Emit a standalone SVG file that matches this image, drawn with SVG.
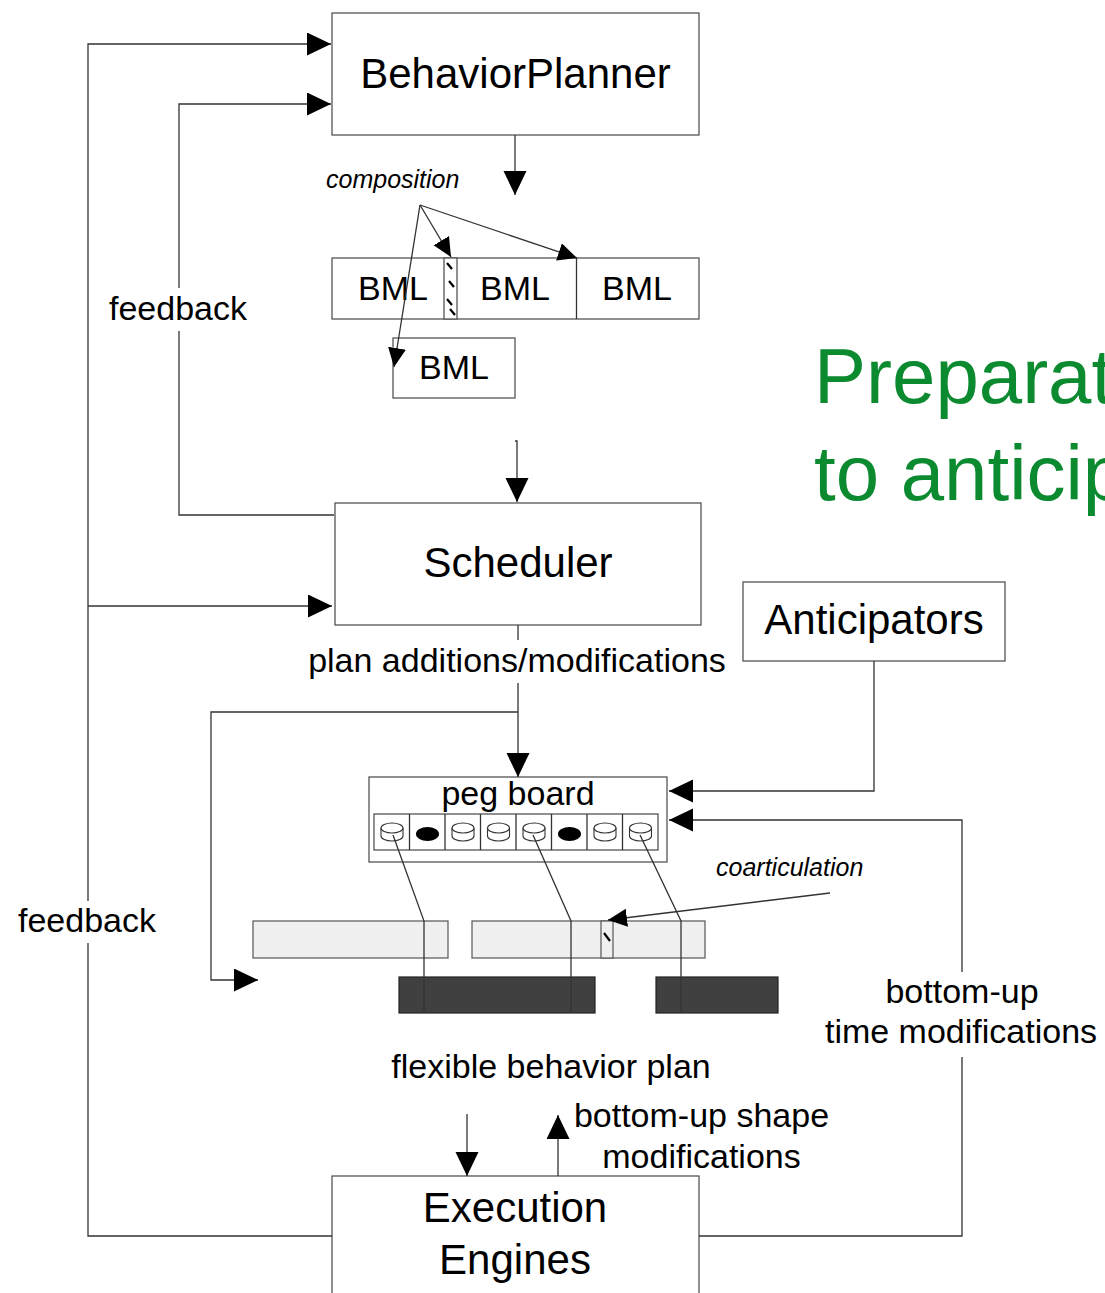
<svg xmlns="http://www.w3.org/2000/svg" width="1105" height="1293" viewBox="0 0 1105 1293">
  <style>
    .box { fill: #ffffff; stroke: #555555; stroke-width: 1.3; }
    .ln { fill: none; stroke: #333333; stroke-width: 1.3; }
    .lbl { font-family: "Liberation Sans", Arial, sans-serif; fill: #000000; }
    .big { font-size: 42px; }
    .mid { font-size: 34px; }
    .it { font-size: 25px; font-style: italic; }
    .light { fill: #f0f0f0; stroke: #555555; stroke-width: 1.2; }
    .dark { fill: #404040; stroke: #222222; stroke-width: 1.2; }
    .hatch { stroke: #000000; stroke-width: 2.2; stroke-linecap: butt; }
    .peg { fill: #ffffff; stroke: #333333; stroke-width: 1.1; }
  </style>
  <defs>
    <marker id="arr" markerUnits="userSpaceOnUse" markerWidth="24" markerHeight="24" refX="24" refY="11.5" orient="auto">
      <path d="M0,0 L24,11.5 L0,23 Z" fill="#000000"/>
    </marker>
    <marker id="arr-s" markerUnits="userSpaceOnUse" markerWidth="20" markerHeight="20" refX="19" refY="9" orient="auto">
      <path d="M0,0 L19,9 L0,18 Z" fill="#000000"/>
    </marker>
    <g id="cyl">
      <path class="peg" d="M-11,-4 L-11,4 A11,5 0 0 0 11,4 L11,-4"/>
      <ellipse class="peg" cx="0" cy="-4" rx="11" ry="5"/>
    </g>
    <ellipse id="solid" cx="0" cy="2" rx="11.5" ry="7" fill="#000000"/>
  </defs>

  <rect width="1105" height="1293" fill="#ffffff"/>

  <g id="behavior-planner">
    <rect class="box" x="332" y="13" width="367" height="122"/>
    <text class="lbl big" x="515.5" y="88" text-anchor="middle">BehaviorPlanner</text>
  </g>

  <g id="composition-label">
    <text class="lbl it" x="326" y="188">composition</text>
  </g>

  <g id="bml-row">
    <rect class="box" x="332" y="258" width="367" height="61"/>
    <rect class="box" x="444" y="258" width="13" height="61"/>
    <!-- overlap strip hatching -->
    <line class="hatch" x1="447" y1="263" x2="452" y2="269"/>
    <line class="hatch" x1="449" y1="281" x2="454" y2="287"/>
    <line class="hatch" x1="447" y1="299" x2="452" y2="305"/>
    <line class="hatch" x1="450" y1="309" x2="455" y2="315"/>
    <line class="ln" x1="576.5" y1="258" x2="576.5" y2="319"/>
    <text class="lbl mid" x="393" y="300" text-anchor="middle">BML</text>
    <text class="lbl mid" x="515" y="300" text-anchor="middle">BML</text>
    <text class="lbl mid" x="637" y="300" text-anchor="middle">BML</text>
  </g>

  <g id="bml-extra">
    <rect class="box" x="393" y="338" width="122" height="60"/>
    <text class="lbl mid" x="454" y="379" text-anchor="middle">BML</text>
  </g>

  <g id="feedback-labels">
    <text class="lbl mid" x="178" y="320" text-anchor="middle">feedback</text>
    <text class="lbl mid" x="87" y="932" text-anchor="middle">feedback</text>
  </g>

  <g id="heading">
    <text x="814" y="403" font-family="Liberation Sans, Arial, sans-serif" font-size="78" fill="#0b8a30">Preparat</text>
    <text x="814" y="500" font-family="Liberation Sans, Arial, sans-serif" font-size="78" fill="#0b8a30">to anticip</text>
  </g>

  <g id="scheduler">
    <rect class="box" x="335" y="503" width="366" height="122"/>
    <text class="lbl big" x="518" y="577" text-anchor="middle">Scheduler</text>
  </g>

  <g id="plan-label">
    <text class="lbl mid" x="517" y="672" text-anchor="middle">plan additions/modifications</text>
  </g>

  <g id="anticipators">
    <rect class="box" x="743" y="582" width="262" height="79"/>
    <text class="lbl big" x="874" y="634" text-anchor="middle">Anticipators</text>
  </g>

  <g id="peg-board">
    <rect class="box" x="369" y="777" width="298" height="85"/>
    <text class="lbl mid" x="518" y="805" text-anchor="middle">peg board</text>
    <rect class="box" x="374" y="814" width="284" height="36"/>
    <path class="ln" d="M409.5,814 V850 M445,814 V850 M480.5,814 V850 M516,814 V850 M551.5,814 V850 M587,814 V850 M622.5,814 V850"/>
    <use href="#cyl" x="392" y="832"/>
    <use href="#solid" x="427.5" y="832"/>
    <use href="#cyl" x="463" y="832"/>
    <use href="#cyl" x="498.5" y="832"/>
    <use href="#cyl" x="534" y="832"/>
    <use href="#solid" x="569.5" y="832"/>
    <use href="#cyl" x="605" y="832"/>
    <use href="#cyl" x="640.5" y="832"/>
  </g>

  <g id="coarticulation-label">
    <text class="lbl it" x="716" y="876">coarticulation</text>
  </g>

  <g id="behavior-plan">
    <rect class="light" x="253" y="921" width="195" height="37"/>
    <rect class="light" x="472" y="921" width="233" height="37"/>
    <rect class="light" x="601" y="921" width="12" height="37"/>
    <line class="hatch" x1="604" y1="933" x2="610" y2="941"/>
    <rect class="dark" x="399" y="977" width="196" height="36"/>
    <rect class="dark" x="656" y="977" width="122" height="36"/>
    <path class="ln" d="M393,835 L424,921 L424,1013"/>
    <path class="ln" d="M533,835 L571,921 L571,1013"/>
    <path class="ln" d="M640,835 L681,921 L681,1013"/>
    <text class="lbl mid" x="551" y="1078" text-anchor="middle">flexible behavior plan</text>
  </g>

  <g id="time-mod-label">
    <text class="lbl mid" x="962" y="1003" text-anchor="middle">bottom-up</text>
    <text class="lbl mid" x="961" y="1043" text-anchor="middle">time modifications</text>
  </g>

  <g id="shape-mod-label">
    <text class="lbl mid" x="701.5" y="1127" text-anchor="middle">bottom-up shape</text>
    <text class="lbl mid" x="701.5" y="1168" text-anchor="middle">modifications</text>
  </g>

  <g id="execution-engines">
    <rect class="box" x="332" y="1176" width="367" height="140"/>
    <text class="lbl big" x="515" y="1222" text-anchor="middle">Execution</text>
    <text class="lbl big" x="515" y="1274" text-anchor="middle">Engines</text>
  </g>

  <!-- connectors, drawn last so they pass over the boxes they cross -->
  <g id="connectors">
    <!-- outer feedback loop: Execution Engines -> Behavior Planner / Scheduler -->
    <path class="ln" d="M332,1236 L88,1236 L88,943"/>
    <path class="ln" d="M88,901 L88,44 L331,44" marker-end="url(#arr)"/>
    <path class="ln" d="M88,606 L332,606" marker-end="url(#arr)"/>
    <!-- inner feedback loop: Scheduler -> Behavior Planner -->
    <path class="ln" d="M334,515 L179,515 L179,331"/>
    <path class="ln" d="M179,288 L179,104 L331,104" marker-end="url(#arr)"/>
    <!-- planner output -->
    <path class="ln" d="M515,135 L515,195" marker-end="url(#arr)"/>
    <!-- composition -->
    <path class="ln" d="M420,205 L451,257" marker-end="url(#arr-s)"/>
    <path class="ln" d="M420,205 L577,258" marker-end="url(#arr-s)"/>
    <path class="ln" d="M420,205 L394,367" marker-end="url(#arr-s)"/>
    <!-- BML to scheduler -->
    <path class="ln" d="M515,441 L517,441 L517,502" marker-end="url(#arr)"/>
    <!-- scheduler to peg board -->
    <path class="ln" d="M518,625 L518,640"/>
    <path class="ln" d="M518,683 L518,777" marker-end="url(#arr)"/>
    <path class="ln" d="M518,712 L211,712 L211,980 L258,980" marker-end="url(#arr)"/>
    <!-- anticipators to peg board -->
    <path class="ln" d="M874,661 L874,791 L669,791" marker-end="url(#arr)"/>
    <!-- bottom-up time modifications -->
    <path class="ln" d="M699,1236 L962,1236 L962,1057"/>
    <path class="ln" d="M962,972 L962,820 L669,820" marker-end="url(#arr)"/>
    <!-- plan to execution and back -->
    <path class="ln" d="M467,1114 L467,1176" marker-end="url(#arr)"/>
    <path class="ln" d="M558,1176 L558,1115" marker-end="url(#arr)"/>
    <!-- coarticulation pointer -->
    <path class="ln" d="M830,893 L608,920" marker-end="url(#arr-s)"/>
  </g>
</svg>
